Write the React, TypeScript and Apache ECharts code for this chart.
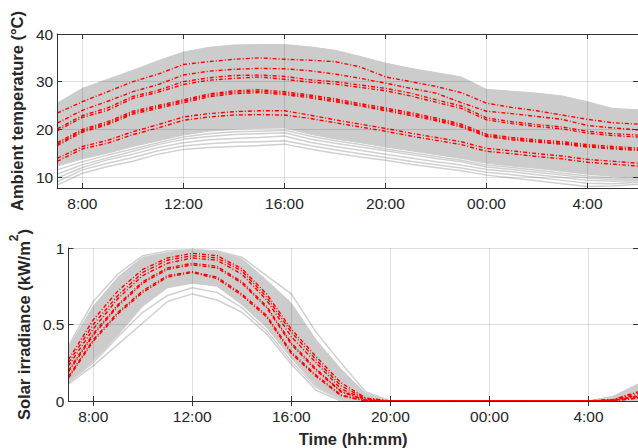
import React, { useEffect, useRef } from "react";
import * as echarts from "echarts";

// hours of day (7:00 day 1 -> 6:00 day 2)
const hours = [7, 8, 9, 10, 11, 12, 13, 14, 15, 16, 17, 18, 19, 20, 21, 22, 23, 24, 25, 26, 27, 28, 29, 30];
const xTickValues = [8, 12, 16, 20, 24, 28];
const xTickLabels = ["8:00", "12:00", "16:00", "20:00", "00:00", "4:00"];
const tempTicks = [10, 20, 30, 40];
const solarTicks = [0, 0.5, 1];

// Ambient temperature: envelope of scenarios
const tempUpper = [25.5, 28.6, 30.5, 32.4, 34.4, 36.2, 37.2, 37.7, 37.8, 37.8, 37.3, 36.6, 35.3, 33.9, 32.8, 31.9, 31.0, 28.4, 28.0, 27.6, 27.0, 25.8, 24.4, 24.1];
const tempDenseLower = [12.3, 13.8, 15.0, 16.4, 17.6, 18.8, 19.6, 20.0, 20.2, 20.3, 19.0, 18.0, 17.2, 16.3, 15.5, 14.7, 13.9, 12.9, 12.3, 11.8, 11.2, 10.6, 10.1, 9.7];
// sparse scenarios below the dense band
const tempLow1 = [8.3, 10.8, 12.2, 13.3, 14.8, 15.8, 16.2, 16.4, 16.6, 16.9, 15.9, 15.0, 14.2, 13.5, 12.7, 12.0, 11.3, 10.4, 9.8, 9.2, 8.6, 8.0, 8.1, 8.5];
const tempLow2 = [9.0, 11.5, 12.9, 14.1, 15.5, 16.5, 17.0, 17.3, 17.4, 17.6, 16.6, 15.7, 14.9, 14.1, 13.3, 12.6, 11.9, 11.0, 10.5, 9.9, 9.3, 8.7, 8.6, 8.9];
const tempLow3 = [9.8, 12.0, 13.6, 14.8, 16.2, 17.2, 17.8, 18.1, 18.3, 18.6, 17.3, 16.4, 15.6, 14.8, 14.0, 13.2, 12.5, 11.6, 11.1, 10.5, 9.9, 9.3, 9.1, 9.2];
const tempLow4 = [10.6, 12.6, 14.0, 15.4, 16.8, 17.9, 18.5, 18.9, 19.1, 19.3, 18.0, 17.1, 16.3, 15.5, 14.7, 13.9, 13.2, 12.1, 11.6, 11.0, 10.4, 9.8, 9.5, 9.4];
const tempLow5 = [11.5, 13.2, 14.6, 15.9, 17.2, 18.4, 19.1, 19.5, 19.6, 19.8, 18.6, 17.6, 16.8, 15.9, 15.1, 14.3, 13.5, 12.5, 12.0, 11.4, 10.8, 10.2, 9.8, 9.5];
// representative (red) scenarios
const tempRedA = [23.4, 25.8, 27.9, 30.0, 31.6, 33.6, 34.2, 34.7, 35.0, 34.7, 34.5, 34.2, 33.1, 31.0, 30.0, 29.0, 27.7, 25.5, 24.6, 23.9, 23.0, 22.1, 21.4, 21.1];
const tempRedB = [21.3, 24.0, 25.9, 27.9, 29.4, 31.4, 32.2, 32.6, 32.8, 32.7, 32.3, 31.6, 30.7, 29.7, 28.6, 27.6, 25.6, 23.8, 23.3, 22.7, 22.1, 20.8, 20.3, 19.9];
const tempRedC1 = [20.1, 22.9, 24.5, 26.9, 28.2, 30.0, 30.8, 31.3, 31.4, 31.1, 30.4, 30.0, 29.3, 28.6, 27.6, 26.2, 24.9, 22.4, 21.6, 21.0, 20.5, 19.6, 19.1, 18.8];
const tempRedC2 = [19.7, 22.5, 24.0, 26.5, 27.8, 29.4, 30.3, 30.7, 31.0, 30.5, 29.9, 29.5, 28.8, 28.1, 27.0, 25.7, 24.4, 22.0, 21.2, 20.6, 20.1, 19.2, 18.7, 18.4];
const tempRedD1 = [17.2, 20.0, 21.6, 23.8, 25.0, 26.2, 27.4, 28.1, 28.3, 27.9, 27.2, 26.4, 25.4, 24.5, 23.5, 22.4, 21.1, 19.0, 18.3, 17.8, 17.4, 16.8, 16.4, 16.1];
const tempRedD2 = [16.9, 19.7, 21.3, 23.5, 24.7, 25.9, 27.1, 27.8, 28.0, 27.6, 26.9, 26.1, 25.1, 24.2, 23.2, 22.1, 20.8, 18.7, 18.0, 17.5, 17.1, 16.5, 16.1, 15.8];
const tempRedD3 = [16.6, 19.4, 21.0, 23.2, 24.4, 25.6, 26.8, 27.5, 27.7, 27.3, 26.6, 25.8, 24.9, 23.9, 22.9, 21.8, 20.5, 18.5, 17.8, 17.3, 16.9, 16.3, 15.9, 15.6];
const tempRedE1 = [13.9, 16.4, 17.7, 19.5, 21.0, 22.6, 23.3, 23.7, 23.9, 23.9, 23.0, 22.0, 21.1, 20.2, 19.2, 18.3, 17.4, 16.0, 15.5, 14.9, 14.4, 13.7, 13.3, 12.9];
const tempRedE2 = [13.3, 15.9, 17.1, 18.9, 20.3, 21.9, 22.6, 23.0, 23.1, 23.0, 22.3, 21.4, 20.5, 19.6, 18.6, 17.7, 16.8, 15.4, 14.9, 14.3, 13.8, 13.1, 12.7, 12.3];

// Solar irradiance
const solarUpper = [0.35, 0.62, 0.81, 0.94, 0.97, 0.99, 0.98, 0.93, 0.79, 0.64, 0.40, 0.21, 0.05, 0, 0, 0, 0, 0, 0, 0, 0, 0, 0.03, 0.11];
const solarDenseLower = [0.12, 0.26, 0.43, 0.62, 0.74, 0.77, 0.75, 0.63, 0.48, 0.28, 0.10, 0.01, 0, 0, 0, 0, 0, 0, 0, 0, 0, 0, 0, 0];
const solarLowOut1 = [0.11, 0.23, 0.37, 0.51, 0.65, 0.70, 0.66, 0.58, 0.44, 0.24, 0.07, 0, 0, 0, 0, 0, 0, 0, 0, 0, 0, 0, 0, 0];
const solarLowOut2 = [0.12, 0.25, 0.42, 0.58, 0.69, 0.74, 0.71, 0.61, 0.46, 0.26, 0.09, 0.01, 0, 0, 0, 0, 0, 0, 0, 0, 0, 0, 0, 0];
const solarHighOut = [0.36, 0.65, 0.83, 0.95, 0.98, 0.99, 0.98, 0.94, 0.82, 0.70, 0.45, 0.25, 0.06, 0, 0, 0, 0, 0, 0, 0, 0, 0, 0.03, 0.11];
const solarRed1 = [0.27, 0.53, 0.72, 0.86, 0.935, 0.965, 0.95, 0.865, 0.70, 0.47, 0.29, 0.12, 0.02, 0, 0, 0, 0, 0, 0, 0, 0, 0, 0.01, 0.06];
const solarRed2 = [0.25, 0.50, 0.69, 0.84, 0.92, 0.95, 0.935, 0.85, 0.68, 0.45, 0.27, 0.10, 0.015, 0, 0, 0, 0, 0, 0, 0, 0, 0, 0.01, 0.05];
const solarRed3 = [0.23, 0.47, 0.67, 0.82, 0.90, 0.935, 0.92, 0.83, 0.66, 0.42, 0.25, 0.08, 0.01, 0, 0, 0, 0, 0, 0, 0, 0, 0, 0.005, 0.04];
const solarRed4 = [0.20, 0.44, 0.63, 0.78, 0.87, 0.90, 0.88, 0.78, 0.62, 0.38, 0.21, 0.065, 0.005, 0, 0, 0, 0, 0, 0, 0, 0, 0, 0.005, 0.03];
const solarRed5 = [0.19, 0.43, 0.62, 0.77, 0.86, 0.89, 0.87, 0.77, 0.61, 0.37, 0.20, 0.06, 0.005, 0, 0, 0, 0, 0, 0, 0, 0, 0, 0.004, 0.03];
const solarRed6 = [0.16, 0.40, 0.58, 0.72, 0.82, 0.845, 0.81, 0.70, 0.56, 0.32, 0.17, 0.04, 0, 0, 0, 0, 0, 0, 0, 0, 0, 0, 0, 0.02];
const solarRed7 = [0.15, 0.39, 0.57, 0.71, 0.81, 0.84, 0.80, 0.69, 0.55, 0.31, 0.16, 0.035, 0, 0, 0, 0, 0, 0, 0, 0, 0, 0, 0, 0.02];

const FONT = "Liberation Sans, Arial, Helvetica, sans-serif";
const TXT = "#262626";
const AXIS = "#333333";
const GRAY = "#cccccc";
const SPARSE = "#d0d0d0";
const RED = "#ff0000";
const GRIDLINE = "rgba(38,38,38,0.15)";
const TICK_FS = 15.5;
const NAME_FS = 16.5;

const pairs = (ys: number[]) => hours.map((h, i) => [h, ys[i]]);
const xLabel = (v: number) => {
  const i = xTickValues.indexOf(Math.round(v));
  return i >= 0 ? xTickLabels[i] : "";
};

// gray envelope: upper filled gray down to axis min, lower filled white down to axis min
function band(xi: number, yi: number, upper: number[], lower: number[]) {
  return [
    {
      type: "line", xAxisIndex: xi, yAxisIndex: yi, data: pairs(upper), symbol: "none", silent: true, z: 1,
      lineStyle: { color: GRAY, width: 1 }, areaStyle: { color: GRAY, opacity: 1, origin: "start" },
    },
    {
      type: "line", xAxisIndex: xi, yAxisIndex: yi, data: pairs(lower), symbol: "none", silent: true, z: 1,
      lineStyle: { color: GRAY, width: 1 }, areaStyle: { color: "#ffffff", opacity: 1, origin: "start" },
    },
  ];
}

function thin(xi: number, yi: number, ys: number[], color: string) {
  return {
    type: "line", xAxisIndex: xi, yAxisIndex: yi, data: pairs(ys), symbol: "none", silent: true, z: 2,
    lineStyle: { color, width: 1.5 },
  };
}

function red(xi: number, yi: number, ys: number[]) {
  return {
    type: "line", xAxisIndex: xi, yAxisIndex: yi, data: pairs(ys), symbol: "none", silent: true, z: 3,
    lineStyle: { color: RED, width: 1.4, type: [4, 2, 1, 2] },
  };
}

const xMain = (gi: number, withName: boolean) => ({
  type: "value", gridIndex: gi, min: 7, max: 30, position: "bottom", z: 5,
  axisLine: { show: true, lineStyle: { color: AXIS, width: 1 } },
  axisTick: { show: true, inside: true, length: 5, customValues: xTickValues, lineStyle: { color: AXIS } },
  axisLabel: { customValues: xTickValues, formatter: xLabel, color: TXT, fontSize: TICK_FS, fontFamily: FONT, margin: 7 },
  splitLine: { show: false },
  ...(withName
    ? {
        name: "Time (hh:mm)", nameLocation: "middle", nameGap: 29,
        nameTextStyle: { color: TXT, fontSize: NAME_FS, fontWeight: "bold", fontFamily: FONT },
      }
    : {}),
});

const xTop = (gi: number) => ({
  type: "value", gridIndex: gi, min: 7, max: 30, position: "top", z: 5,
  axisLine: { show: true, lineStyle: { color: AXIS, width: 1 } },
  axisTick: { show: true, inside: true, length: 5, customValues: xTickValues, lineStyle: { color: AXIS } },
  axisLabel: { show: false, customValues: xTickValues },
  splitLine: { show: true, lineStyle: { color: GRIDLINE, width: 1 } },
});

const yLeft = (gi: number, min: number, max: number, ticks: number[], name: string, gap: number, rich?: any) => ({
  type: "value", gridIndex: gi, min, max, position: "left", z: 5,
  axisLine: { show: true, lineStyle: { color: AXIS, width: 1 } },
  axisTick: { show: true, inside: true, length: 5, customValues: ticks, lineStyle: { color: AXIS } },
  axisLabel: { customValues: ticks, formatter: (v: number) => String(v), color: TXT, fontSize: TICK_FS, fontFamily: FONT, margin: 4 },
  splitLine: { show: false },
  name, nameLocation: "middle", nameGap: gap,
  nameTextStyle: { color: TXT, fontSize: NAME_FS, fontWeight: "bold", fontFamily: FONT, ...(rich ? { rich } : {}) },
});

const yRight = (gi: number, min: number, max: number, ticks: number[]) => ({
  type: "value", gridIndex: gi, min, max, position: "right", z: 5,
  axisLine: { show: true, lineStyle: { color: AXIS, width: 1 } },
  axisTick: { show: true, inside: true, length: 5, customValues: ticks, lineStyle: { color: AXIS } },
  axisLabel: { show: false, customValues: ticks },
  splitLine: { show: true, lineStyle: { color: GRIDLINE, width: 1 } },
});

export default function App() {
  const ref = useRef<HTMLDivElement>(null);
  useEffect(() => {
    if (!ref.current) return;
    const chart = echarts.init(ref.current, null, { renderer: "svg" });
    const richSup = {
      b: { fontSize: NAME_FS, fontWeight: "bold", fontFamily: FONT, color: TXT, lineHeight: 24, verticalAlign: "bottom" },
      sup: { fontSize: 12, fontWeight: "bold", fontFamily: FONT, color: TXT, lineHeight: 24, verticalAlign: "top" },
    };
    chart.setOption({
      animation: false,
      backgroundColor: "#ffffff",
      grid: [
        { left: 54, top: 34, right: -2, height: 154, containLabel: false },
        { left: 54, top: 248, right: -2, height: 155, containLabel: false },
      ],
      xAxis: [xMain(0, false), xTop(0), xMain(1, true), xTop(1)],
      yAxis: [
        yLeft(0, 7.7, 40, tempTicks, "Ambient temperature (°C)", 21),
        yRight(0, 7.7, 40, tempTicks),
        yLeft(1, 0, 1, solarTicks, "{b|Solar irradiance (kW/m}{sup|2}{b|)}", 23, richSup),
        yRight(1, 0, 1, solarTicks),
      ],
      series: [
        ...band(0, 0, tempUpper, tempDenseLower),
        thin(0, 0, tempLow1, SPARSE),
        thin(0, 0, tempLow2, SPARSE),
        thin(0, 0, tempLow3, SPARSE),
        thin(0, 0, tempLow4, SPARSE),
        thin(0, 0, tempLow5, SPARSE),
        red(0, 0, tempRedA),
        red(0, 0, tempRedB),
        red(0, 0, tempRedC1),
        red(0, 0, tempRedC2),
        red(0, 0, tempRedD1),
        red(0, 0, tempRedD2),
        red(0, 0, tempRedD3),
        red(0, 0, tempRedE1),
        red(0, 0, tempRedE2),
        ...band(2, 2, solarUpper, solarDenseLower),
        thin(2, 2, solarLowOut1, SPARSE),
        thin(2, 2, solarLowOut2, SPARSE),
        thin(2, 2, solarHighOut, SPARSE),
        red(2, 2, solarRed1),
        red(2, 2, solarRed2),
        red(2, 2, solarRed3),
        red(2, 2, solarRed4),
        red(2, 2, solarRed5),
        red(2, 2, solarRed6),
        red(2, 2, solarRed7),
      ],
    });
    return () => chart.dispose();
  }, []);
  return <div ref={ref} style={{ position: "fixed", left: 0, top: 0, width: 638, height: 448 }} />;
}
